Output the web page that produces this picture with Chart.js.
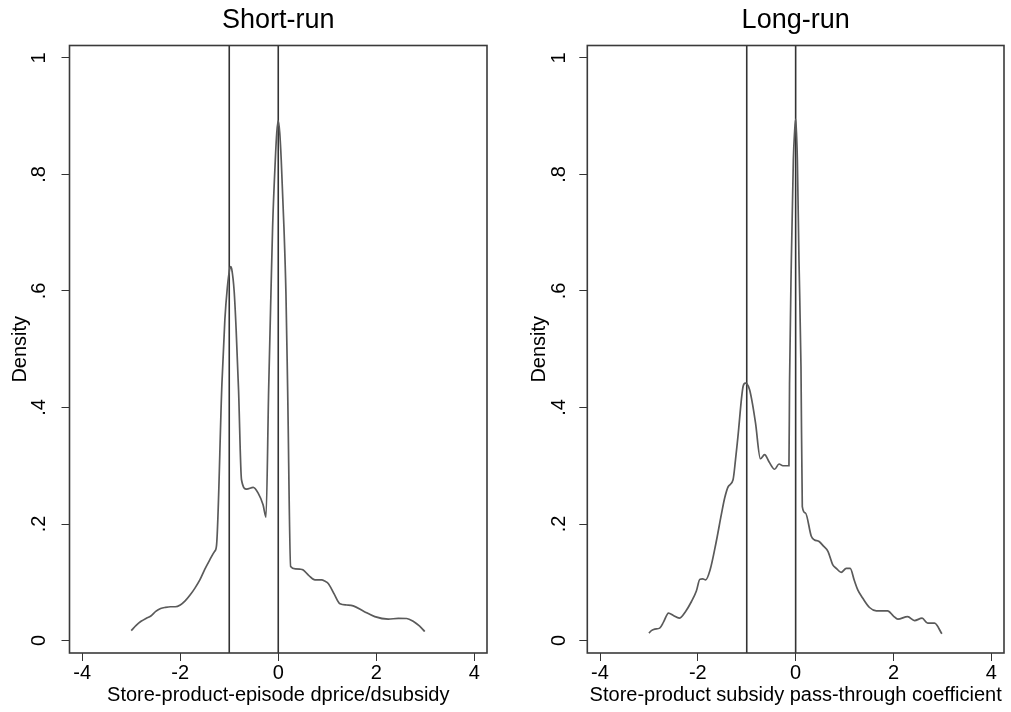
<!DOCTYPE html>
<html>
<head>
<meta charset="utf-8">
<script src="https://cdn.jsdelivr.net/npm/chart.js@4/dist/chart.umd.min.js"></script>
<style>
  body { margin: 0; background: #fff; }
  #wrap { position: relative; width: 1011px; height: 712px; }
  #c1 { position: absolute; left: 0; top: 0; }
  #c2 { position: absolute; left: 520px; top: 0; }
</style>
</head>
<body>
<div id="wrap">
  <canvas id="c1" width="520" height="712"></canvas>
  <canvas id="c2" width="491" height="712"></canvas>
</div>
<script>
// short-run density (dprice/dsubsidy)
const shortX = [-3.0, -2.9, -2.8, -2.7, -2.6, -2.5, -2.4, -2.3, -2.2, -2.1, -2.0, -1.9, -1.8, -1.7, -1.6, -1.5, -1.4, -1.3, -1.26,
  -1.15, -1.09, -1.04, -0.99, -0.97, -0.95, -0.90, -0.86, -0.81, -0.75, -0.645, -0.51, -0.41, -0.31, -0.25,
  -0.196, -0.149, -0.115, -0.06, -0.03, 0, 0.03, 0.061, 0.116, 0.157, 0.192, 0.253,
  0.35, 0.44, 0.51, 0.62, 0.75, 0.885, 0.95, 1.02, 1.14, 1.26, 1.40, 1.53, 1.75, 1.97, 2.245, 2.45, 2.62, 2.76, 2.88, 2.99];
const shortY = [0.017, 0.026, 0.033, 0.038, 0.042, 0.050, 0.055, 0.057, 0.058, 0.058, 0.061, 0.068, 0.078, 0.090, 0.104, 0.122, 0.138, 0.153, 0.163,
  0.440, 0.550, 0.605, 0.638, 0.642, 0.638, 0.600, 0.535, 0.430, 0.276, 0.260, 0.263, 0.253, 0.233, 0.212,
  0.430, 0.596, 0.710, 0.825, 0.872, 0.892, 0.872, 0.825, 0.710, 0.596, 0.430, 0.127,
  0.123, 0.1225, 0.121, 0.112, 0.104, 0.104, 0.102, 0.098, 0.080, 0.063, 0.061, 0.0595, 0.050, 0.041, 0.0367, 0.038, 0.0378, 0.0326, 0.025, 0.0155];

// long-run density (pass-through coefficient)
const longX = [-3.0, -2.95, -2.88, -2.78, -2.70, -2.6, -2.5, -2.38, -2.25, -2.13, -2.03, -1.96, -1.90, -1.84, -1.75, -1.63, -1.52, -1.45, -1.38, -1.28,
  -1.23, -1.18, -1.075, -1.03, -1.0, -0.94, -0.88, -0.82, -0.72, -0.635, -0.545, -0.43, -0.34, -0.26, -0.157, -0.137,
  -0.125, -0.088, -0.047, -0.02, 0, 0.02, 0.035, 0.068, 0.109, 0.136,
  0.20, 0.32, 0.38, 0.48, 0.57, 0.66, 0.76, 0.83, 0.93, 1.035, 1.115, 1.2, 1.27, 1.37, 1.51, 1.65, 1.78, 1.88, 2.0, 2.09, 2.29, 2.43, 2.585, 2.70, 2.84, 2.99];
const longY = [0.0127, 0.017, 0.0195, 0.0213, 0.032, 0.047, 0.043, 0.0384, 0.050, 0.067, 0.085, 0.105, 0.106, 0.104, 0.121, 0.167, 0.216, 0.245, 0.264, 0.276,
  0.310, 0.350, 0.436, 0.442, 0.441, 0.430, 0.405, 0.373, 0.312, 0.319, 0.307, 0.294, 0.303, 0.300, 0.300, 0.300,
  0.440, 0.653, 0.825, 0.875, 0.895, 0.865, 0.825, 0.653, 0.470, 0.230,
  0.219, 0.179, 0.173, 0.170, 0.162, 0.153, 0.130, 0.124, 0.117, 0.124, 0.124, 0.103, 0.087, 0.073, 0.0567, 0.051, 0.051, 0.051, 0.042, 0.0367, 0.041, 0.0343, 0.0384, 0.0298, 0.0298, 0.0115];

const refLines = [-1, 0];
const xTicks = [-4, -2, 0, 2, 4];
const yTicks = [0, 0.2, 0.4, 0.6, 0.8, 1];
const yTickLabels = ['0', '.2', '.4', '.6', '.8', '1'];

const FONT = 'Liberation Sans, Arial, Helvetica, sans-serif';
const yMin = -0.0214, yMax = 1.0214;

const framePlugin = {
    id: 'frame',
    afterDatasetsDraw(chart) {
        const a = chart.chartArea;
        const ctx = chart.ctx;
        ctx.save();
        ctx.strokeStyle = '#3a3a3a';
        ctx.lineWidth = 1.6;
        ctx.strokeRect(a.left, a.top, a.right - a.left, a.bottom - a.top);
        ctx.restore();
    }
};

function makeChart(id, title, xTitle, xs, ys, yWidth, padRight, yTickPad, yTitlePad) {
    const ctx = document.getElementById(id).getContext('2d');
    const datasets = [{
        data: xs.map((x, i) => ({ x: x, y: ys[i] })),
        borderColor: '#5a5a5a',
        borderWidth: 1.7,
        pointRadius: 0,
        cubicInterpolationMode: 'monotone',
        fill: false
    }];
    refLines.forEach(v => {
        datasets.push({
            data: [{ x: v, y: yMin }, { x: v, y: yMax }],
            borderColor: '#333',
            borderWidth: 1.6,
            pointRadius: 0,
            fill: false
        });
    });
    return new Chart(ctx, {
        type: 'line',
        data: { datasets: datasets },
        plugins: [framePlugin],
        options: {
            responsive: false,
            animation: false,
            layout: { padding: { left: 0, right: padRight, top: 0, bottom: 0 } },
            plugins: {
                legend: { display: false },
                tooltip: { enabled: false },
                title: {
                    display: true,
                    text: title,
                    fullSize: false,
                    color: '#000',
                    font: { family: FONT, size: 27, weight: 'normal' },
                    padding: { top: 4, bottom: 9.1 }
                }
            },
            scales: {
                x: {
                    type: 'linear',
                    min: -4.26,
                    max: 4.26,
                    afterBuildTicks: s => { s.ticks = xTicks.map(v => ({ value: v })); },
                    afterFit: s => { s.height = 59; },
                    grid: { drawOnChartArea: false, tickLength: 8, color: '#333' },
                    border: { display: false },
                    ticks: { color: '#000', padding: 0, maxRotation: 0, font: { family: FONT, size: 20 } },
                    title: {
                        display: true,
                        text: xTitle,
                        color: '#000',
                        font: { family: FONT, size: 20 },
                        padding: { top: 0, bottom: 4.6 }
                    }
                },
                y: {
                    type: 'linear',
                    min: yMin,
                    max: yMax,
                    afterBuildTicks: s => { s.ticks = yTicks.map(v => ({ value: v })); },
                    afterFit: s => { s.width = yWidth; },
                    grid: { drawOnChartArea: false, tickLength: 8, color: '#333' },
                    border: { display: false },
                    ticks: {
                        color: '#000',
                        minRotation: 90,
                        maxRotation: 90,
                        crossAlign: 'center',
                        padding: yTickPad,
                        font: { family: FONT, size: 20 },
                        callback: (v, i) => yTickLabels[i]
                    },
                    title: {
                        display: true,
                        text: 'Density',
                        color: '#000',
                        font: { family: FONT, size: 20 },
                        padding: { top: yTitlePad, bottom: 0 }
                    }
                }
            }
        }
    });
}

makeChart('c1', 'Short-run', 'Store-product-episode dprice/dsubsidy', shortX, shortY, 69.5, 33, 13.2, 8.7);
makeChart('c2', 'Long-run', 'Store-product subsidy pass-through coefficient', longX, longY, 67.3, 7, 11, 7);
</script>
</body>
</html>
